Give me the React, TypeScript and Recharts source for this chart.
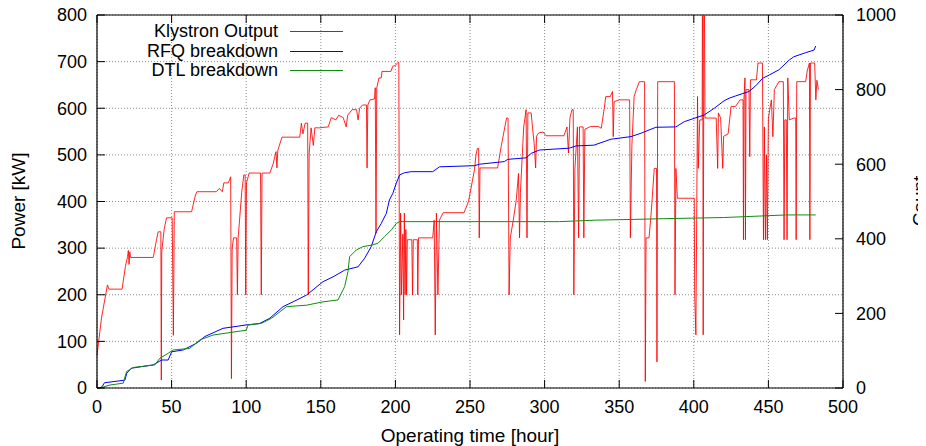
import { LineChart, Line, XAxis, YAxis, CartesianGrid, ReferenceLine, Legend } from 'recharts';

// layout of the gnuplot-like frame (svg coords)
const W = 918;
const H = 438;
const PLOT_LEFT = 89;
const PLOT_TOP = 7;
const PLOT_RIGHT = 835;
const PLOT_BOTTOM = 380;
const FONT = '"Liberation Sans", Arial, sans-serif';
const FS = 18;

const HOUR_TICKS = [0, 50, 100, 150, 200, 250, 300, 350, 400, 450, 500];
const POWER_TICKS = [0, 100, 200, 300, 400, 500, 600, 700, 800];
const COUNT_TICKS = [0, 200, 400, 600, 800, 1000];

const RED = '#ff0000';
const BLUE = '#0000ff';
const GREEN = '#108c10';

// [hour, kW]
const KLYSTRON: [number, number][] = [
  [0, 70], [3, 150], [7, 221], [8, 212], [16.8, 212], [19, 260], [20.5, 282], [21, 295], [21.5, 265],
  [22, 292], [22.5, 280], [37.7, 280], [40, 320], [41, 335], [42.8, 335], [43.1, 17], [43.4, 292],
  [45, 340], [46.6, 365], [50.4, 365], [51.2, 113], [51.8, 378], [63.4, 378], [66, 414], [67, 421],
  [80, 421], [82, 428], [84, 421], [85, 440], [88, 440], [89.6, 453], [90.1, 20], [90.6, 300],
  [91.5, 322], [93.6, 322], [94.1, 200], [94.6, 322], [97, 420], [98.4, 457], [99.3, 457], [99.7, 200],
  [100.2, 440], [102, 461], [109.6, 461], [110.1, 200], [110.6, 461], [115.8, 461], [118, 480],
  [120, 507], [120.6, 472], [121.2, 510], [124, 538], [135.9, 538], [137, 568], [138, 545], [139.5, 568],
  [141.2, 568], [141.6, 200], [142.2, 504], [143.5, 558], [145, 520], [146, 558], [149, 558],
  [155, 560], [157, 580], [160, 575], [162, 585], [165, 580], [167, 560], [168, 585], [171, 597],
  [174, 597], [175, 575], [176, 600], [178, 607], [180.6, 607], [181, 472], [181.5, 607], [183, 618],
  [186, 620], [186.5, 644], [187, 332], [187.5, 644], [189, 665], [190.5, 665], [191, 679], [197, 679],
  [198.2, 690], [200, 692], [201.7, 698], [202.3, 698], [202.8, 114], [203.5, 375], [204, 200],
  [205, 330], [205.5, 146], [206, 375], [206.5, 200], [207, 340], [207.5, 200], [208, 318], [211, 318],
  [211.5, 200], [212, 318], [214.7, 318], [215, 200], [215.5, 322], [225, 322], [226, 360],
  [226.7, 114], [227.5, 375], [228.5, 200], [229.5, 360], [232, 376], [246, 376], [249, 400],
  [253, 468], [254, 500], [255, 514], [255.8, 514], [256.2, 322], [256.7, 472], [268.5, 472],
  [271, 520], [274.5, 579], [275.5, 579], [276.2, 200], [277, 322], [279, 360], [281, 403],
  [282.5, 460], [283.2, 322], [283.8, 420], [286, 560], [287.6, 597], [288.2, 322], [288.8, 590],
  [291, 590], [292, 555], [293, 525], [294, 472], [294.6, 540], [296, 547], [299, 549], [301, 541],
  [313, 541], [315, 560], [316, 504], [317, 580], [318.4, 597], [319.2, 597], [319.6, 200],
  [320.3, 470], [322, 560], [322.8, 322], [323.4, 560], [325.8, 560], [326.3, 322], [327, 555],
  [331, 561], [336, 561], [338, 557], [340, 600], [341, 625], [344, 625], [345.5, 636], [346, 539],
  [346.6, 614], [350, 618], [357, 618], [357.5, 322], [358.5, 520], [360, 625], [361.5, 640],
  [363.5, 657], [367, 657], [367.5, 14], [368, 322], [370, 322], [371.5, 378], [373.5, 471],
  [375, 471], [375.3, 56], [375.8, 657], [387, 657], [387.4, 200], [388, 471], [389, 407],
  [400.3, 407], [400.6, 200], [401.4, 114], [402.5, 625], [403, 471], [404, 575], [405.6, 575],
  [405.9, 1000], [406.3, 114], [406.9, 1000], [407.5, 579], [415, 579], [416, 471], [416.5, 590],
  [418, 579], [419.4, 471], [420, 540], [423, 545], [425, 604], [428, 604], [431, 618], [433, 618],
  [433.3, 318], [433.6, 618], [434.3, 665], [434.6, 318], [435, 640], [437, 640], [437.5, 496],
  [438, 661], [442, 661], [443, 697], [446, 697], [446.7, 318], [447.3, 560], [448, 318], [448.7, 500],
  [449.3, 318], [450, 579], [452, 618], [453, 539], [454, 640], [457, 657], [460, 657], [460.5, 318],
  [461, 575], [462, 575], [462.5, 318], [463, 665], [464, 575], [467, 579], [468.3, 579],
  [468.6, 318], [469, 657], [475, 657], [476, 680], [477.5, 697], [477.8, 318], [478.2, 697],
  [481, 697], [481.8, 618], [482.5, 660], [483.5, 640],
];

// [hour, count]
const RFQ: [number, number][] = [
  [0, 0], [2, 0], [3.5, 4], [5, 14], [18.7, 21], [20, 40], [23, 53], [37.7, 62], [43.3, 75],
  [47.7, 75], [50, 97], [57.8, 102], [66.7, 120], [72.3, 138], [84.5, 160], [100, 169], [109, 173],
  [115.8, 187], [124.7, 218], [131.4, 231], [140.4, 249], [151.5, 285], [158.2, 298], [166, 316],
  [175, 325], [179.4, 348], [183.8, 379], [187.2, 419], [190.5, 441], [193.9, 468], [196, 504],
  [198.3, 522], [200.6, 549], [202.8, 571], [206, 577], [210.6, 580], [225, 580], [229.6, 593],
  [253, 596], [256.4, 600], [273, 607], [275.3, 613], [287.6, 617], [291, 629], [296.5, 638],
  [316.6, 643], [321, 649], [333, 651], [344.5, 667], [357.9, 674], [364.6, 683], [374.6, 699],
  [388, 700], [393.6, 714], [400.3, 723], [407, 732], [413.7, 750], [420.3, 770], [423.7, 777],
  [428, 783], [437, 795], [441.5, 810], [446, 830], [450.5, 839], [457, 853], [463.9, 879],
  [467, 888], [475, 899], [480.6, 906], [481.7, 917],
];

// [hour, count]
const DTL: [number, number][] = [
  [0, 0], [2, 0], [8.7, 8], [17.6, 13], [19.8, 44], [24.3, 55], [38.8, 62], [42.2, 80], [47.7, 93],
  [51, 102], [62, 106], [69, 129], [77.8, 142], [100, 155], [101.3, 169], [110, 173], [117, 187],
  [127, 218], [140.4, 222], [151.5, 231], [161.5, 236], [164.9, 263], [166, 272], [168.2, 312],
  [169.3, 352], [173.8, 370], [178.2, 379], [183.9, 383], [188.3, 388], [192.8, 406], [197.3, 424],
  [200.6, 441], [202.8, 446], [310, 446], [334, 450], [359.7, 452], [379.5, 454], [420, 457],
  [444, 461], [462, 464], [481.7, 464],
];

const toRows = (pts: [number, number][]) => pts.map(([h, v]) => ({ h, v }));

const SERIES = [
  { name: 'Klystron Output', color: RED },
  { name: 'RFQ breakdown', color: BLUE },
  { name: 'DTL breakdown', color: GREEN },
];

const txt = { fontFamily: FONT, fontSize: FS, fill: '#000' };
const titleTxt = { ...txt, fontSize: 19 };

// gnuplot style: inward ticks, mirrored on top
function HourTick(p: any) {
  const x = p.x;
  return (
    <g>
      <line x1={x} x2={x} y1={PLOT_BOTTOM} y2={PLOT_BOTTOM - 8} stroke="#000" />
      <line x1={x} x2={x} y1={PLOT_TOP} y2={PLOT_TOP + 8} stroke="#000" />
      <text x={x} y={PLOT_BOTTOM + 25} textAnchor="middle" {...txt}>{p.payload.value}</text>
    </g>
  );
}

function PowerTick(p: any) {
  const y = p.y;
  return (
    <g>
      <line x1={PLOT_LEFT} x2={PLOT_LEFT + 8} y1={y} y2={y} stroke="#000" />
      <text x={PLOT_LEFT - 10} y={y} dy="0.35em" textAnchor="end" {...txt}>{p.payload.value}</text>
    </g>
  );
}

function CountTick(p: any) {
  const y = p.y;
  return (
    <g>
      <line x1={PLOT_RIGHT} x2={PLOT_RIGHT - 8} y1={y} y2={y} stroke="#000" />
      <text x={PLOT_RIGHT + 13} y={y} dy="0.35em" textAnchor="start" {...txt}>{p.payload.value}</text>
    </g>
  );
}

function KeyBox() {
  return (
    <div style={{ fontFamily: FONT, fontSize: FS, color: '#000' }}>
      {SERIES.map(s => (
        <div key={s.name} style={{ display: 'flex', alignItems: 'center', height: 19.5 }}>
          <div style={{ width: 170, textAlign: 'right', lineHeight: '19.5px', whiteSpace: 'nowrap' }}>{s.name}</div>
          <div style={{ width: 53, marginLeft: 12, borderTop: `1px solid ${s.color}` }} />
        </div>
      ))}
    </div>
  );
}

export default function App() {
  return (
    <LineChart width={W} height={H} margin={{ top: PLOT_TOP, right: 0, bottom: 0, left: 0 }}>
      <CartesianGrid stroke="#8c8c8c" strokeDasharray="1 2" />
      <XAxis
        dataKey="h"
        type="number"
        domain={[0, 500]}
        ticks={HOUR_TICKS}
        interval={0}
        height={H - PLOT_BOTTOM}
        axisLine={{ stroke: '#000', strokeWidth: 1.2 }}
        tickLine={false}
        tick={<HourTick />}
        label={{
          content: () => (
            <text x={(PLOT_LEFT + PLOT_RIGHT) / 2} y={427} dy="0.35em" textAnchor="middle" {...titleTxt}>
              Operating time [hour]
            </text>
          ),
        }}
      />
      <YAxis
        type="number"
        domain={[0, 800]}
        ticks={POWER_TICKS}
        interval={0}
        allowDataOverflow
        width={PLOT_LEFT}
        axisLine={{ stroke: '#000', strokeWidth: 1.2 }}
        tickLine={false}
        tick={<PowerTick />}
        label={{
          content: () => (
            <text x={10} y={193} dy="0.35em" textAnchor="middle" transform="rotate(-90 10 193)" {...titleTxt}>
              Power [kW]
            </text>
          ),
        }}
      />
      <YAxis
        yAxisId="r"
        orientation="right"
        type="number"
        domain={[0, 1000]}
        ticks={COUNT_TICKS}
        interval={0}
        width={W - PLOT_RIGHT}
        axisLine={{ stroke: '#000', strokeWidth: 1.2 }}
        tickLine={false}
        tick={<CountTick />}
        label={{
          content: () => (
            <text x={911} y={193} dy="0.35em" textAnchor="middle" transform="rotate(-90 911 193)" {...titleTxt}>
              Count
            </text>
          ),
        }}
      />
      <ReferenceLine y={800} stroke="#000" strokeWidth={1.2} />
      <Legend
        layout="vertical"
        align="center"
        verticalAlign="middle"
        content={() => <KeyBox />}
        wrapperStyle={{ position: 'absolute', left: 100, top: 14, width: 240 }}
      />
      <Line data={toRows(KLYSTRON)} dataKey="v" name="Klystron Output" stroke={RED} strokeWidth={1}
        strokeOpacity={0.85} dot={false} isAnimationActive={false} type="linear" />
      <Line data={toRows(RFQ)} dataKey="v" yAxisId="r" name="RFQ breakdown" stroke={BLUE} strokeWidth={1}
        dot={false} isAnimationActive={false} type="linear" />
      <Line data={toRows(DTL)} dataKey="v" yAxisId="r" name="DTL breakdown" stroke={GREEN} strokeWidth={1}
        dot={false} isAnimationActive={false} type="linear" />
    </LineChart>
  );
}
